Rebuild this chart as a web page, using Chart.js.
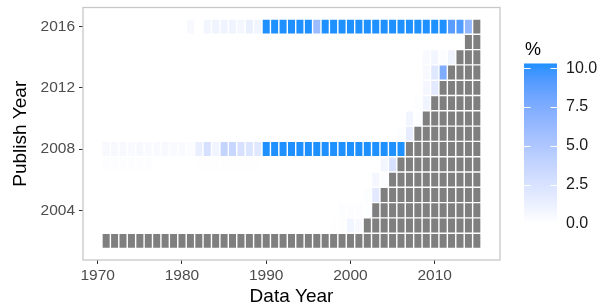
<!DOCTYPE html>
<html>
<head>
<meta charset="utf-8">
<script src="https://cdn.jsdelivr.net/npm/chart.js@4.4.1/dist/chart.umd.min.js"></script>
<style>
  body { margin: 0; background: #fff; }
</style>
</head>
<body>
<canvas id="myChart" width="603" height="308"></canvas>
<script>
// data years (columns) and publish years (rows)
const dataYears = [1971,1972,1973,1974,1975,1976,1977,1978,1979,1980,
  1981,1982,1983,1984,1985,1986,1987,1988,1989,1990,
  1991,1992,1993,1994,1995,1996,1997,1998,1999,2000,
  2001,2002,2003,2004,2005,2006,2007,2008,2009,2010,
  2011,2012,2013,2014,2015];
const publishYears = [2002,2003,2004,2005,2006,2007,2008,2009,2010,2011,2012,2013,2014,2015,2016];

// % per data year, one row per publish year (null = NA)
const row2016 = [0,0,0,0,0,0,0,0,0,0, 0.5,0,0.8,1.0,1.0,1.0,0.7,1.3,0.9, 10.3,10.3,10.3,10.3,10.3,10.3,6.0,10.3,10.3,10.3, 10.3,10.3,10.3,10.3,10.3,10.3,10.3,10.3,10.3,10.3, 10.3,10.3,9.0,9.2,6.5,null];
const row2015 = [0,0,0,0,0,0,0,0,0,0, 0,0,0,0,0,0,0,0,0,0, 0,0,0,0,0,0,0,0,0,0, 0,0,0,0,0,0,0,0,0,0, 0,0,0,null,null];
const row2014 = [0,0,0,0,0,0,0,0,0,0, 0,0,0,0,0,0,0,0,0,0, 0,0,0,0,0,0,0,0,0,0, 0,0,0,0,0,0,0,0, 0.4,0.8,0.2,1.0,null,null,null];
const row2013 = [0,0,0,0,0,0,0,0,0,0, 0,0,0,0,0,0,0,0,0,0, 0,0,0,0,0,0,0,0,0,0, 0,0,0,0,0,0,0,0, 0.5,2.0,7.5,null,null,null,null];
const row2012 = [0,0,0,0,0,0,0,0,0,0, 0,0,0,0,0,0,0,0,0,0, 0,0,0,0,0,0,0,0,0,0, 0,0,0,0,0,0,0,0, 0.7,1.8,null,null,null,null,null];
const row2011 = [0,0,0,0,0,0,0,0,0,0, 0,0,0,0,0,0,0,0,0,0, 0,0,0,0,0,0,0,0,0,0, 0,0,0,0,0,0,0, 0.2,1.0,null,null,null,null,null,null];
const row2010 = [0,0,0,0,0,0,0,0,0,0, 0,0,0,0,0,0,0,0,0,0, 0,0,0,0,0,0,0,0,0,0, 0,0,0,0,0,0, 0.9,0.2,null,null,null,null,null,null,null];
const row2009 = [0,0,0,0,0,0,0,0,0,0, 0,0,0,0,0,0,0,0,0,0, 0,0,0,0,0,0,0,0,0,0, 0,0,0,0,0, 0.2,1.6,null,null,null,null,null,null,null,null];
const row2008 = [0.5,0.5,0.5,0.4,0.5,0.4,0.4,0.5,0.4,0.4, 0.3,1.4,2.6,0.9,3.8,3.5,2.6,2.3,2.0, 10.3,10.3,10.3,10.3,10.3,10.3,10.3,10.3,10.3,10.3,10.3,10.3,10.3,10.3,10.3,10.3,10.3, null,null,null,null,null,null,null,null,null];
const row2007 = [0.15,0.15,0.15,0.15,0.15,0.15, 0,0,0,0,0, 0.05,0.05,0.05,0.05,0.05,0.05,0.05,0.05, 0,0,0,0,0,0,0,0,0,0,0,0,0,0, 0.8,2.6, null,null,null,null,null,null,null,null,null,null];
const row2006 = [0,0,0,0,0,0,0,0,0,0, 0,0,0,0,0,0,0,0,0,0, 0,0,0,0,0,0,0,0,0,0, 0,0, 0.7,0.2,null,null,null,null,null,null,null,null,null,null,null];
const row2005 = [0,0,0,0,0,0,0,0,0,0, 0,0,0,0,0,0,0,0,0,0, 0,0,0,0,0,0,0,0,0,0, 0, 0.2,1.9,null,null,null,null,null,null,null,null,null,null,null,null];
const row2004 = [0,0,0,0,0,0,0,0,0,0, 0,0,0,0,0,0,0,0,0,0, 0,0,0,0,0,0,0,0, 0.2,0.15,0.15,0.1,null,null,null,null,null,null,null,null,null,null,null,null,null];
const row2003 = [0,0,0,0,0,0,0,0,0,0, 0,0,0,0,0,0,0,0,0,0, 0,0,0,0,0,0,0, 0.05,0.05,0.9,0.5,null,null,null,null,null,null,null,null,null,null,null,null,null,null];
const row2002 = [null,null,null,null,null,null,null,null,null,null, null,null,null,null,null,null,null,null,null,null, null,null,null,null,null,null,null,null,null,null, null,null,null,null,null,null,null,null,null,null, null,null,null,null,null];
const rows = [row2002,row2003,row2004,row2005,row2006,row2007,row2008,row2009,row2010,row2011,row2012,row2013,row2014,row2015,row2016];

const xTicks = [1970,1980,1990,2000,2010];
const yTicks = [2004,2008,2012,2016];
const legendTicks = [0,2.5,5,7.5,10];
const legendMax = 10.3;

// white -> dodgerblue, interpolated in Lab like ggplot
function toLab(hex) {
  const c = [1,3,5].map(i => parseInt(hex.substr(i,2),16)/255)
    .map(v => v <= 0.04045 ? v/12.92 : Math.pow((v+0.055)/1.055, 2.4));
  const x = (0.4124*c[0] + 0.3576*c[1] + 0.1805*c[2]) / 0.95047;
  const y = (0.2126*c[0] + 0.7152*c[1] + 0.0722*c[2]);
  const z = (0.0193*c[0] + 0.1192*c[1] + 0.9505*c[2]) / 1.08883;
  const f = t => t > 0.008856 ? Math.cbrt(t) : 7.787*t + 16/116;
  return [116*f(y) - 16, 500*(f(x)-f(y)), 200*(f(y)-f(z))];
}
function fromLab(L, a, b) {
  const fy = (L+16)/116, fx = fy + a/500, fz = fy - b/200;
  const g = t => t > 0.206893 ? t*t*t : (t - 16/116)/7.787;
  const x = g(fx)*0.95047, y = g(fy), z = g(fz)*1.08883;
  const r = 3.2406*x - 1.5372*y - 0.4986*z;
  const gg = -0.9689*x + 1.8758*y + 0.0415*z;
  const bb = 0.0557*x - 0.2040*y + 1.0570*z;
  const s = v => Math.round(255*Math.min(1, Math.max(0, v <= 0.0031308 ? 12.92*v : 1.055*Math.pow(v, 1/2.4) - 0.055)));
  return 'rgb(' + s(r) + ',' + s(gg) + ',' + s(bb) + ')';
}
const lowLab = toLab('#FFFFFF');
const highLab = toLab('#1E90FF');
function fillFor(v) {
  if (v === null) return '#7F7F7F';
  const t = Math.min(1, Math.max(0, v / legendMax));
  return fromLab(lowLab[0] + t*(highLab[0]-lowLab[0]), lowLab[1] + t*(highLab[1]-lowLab[1]), lowLab[2] + t*(highLab[2]-lowLab[2]));
}

const cells = [];
for (var r = 0; r < publishYears.length; r++) {
  for (var i = 0; i < dataYears.length; i++) {
    cells.push({x: dataYears[i], y: [publishYears[r]-0.5, publishYears[r]+0.5], v: rows[r][i]});
  }
}

const FONT = "'Liberation Sans', Arial, sans-serif";

const frameAndLegend = {
  id: 'frameAndLegend',
  afterDatasetsDraw(chart) {
    const a = chart.chartArea, c = chart.ctx;
    c.save();
    c.strokeStyle = '#C8C8C8';
    c.lineWidth = 1.3;
    c.strokeRect(a.left, a.top, a.right - a.left, a.bottom - a.top);
    c.restore();
  },
  afterDraw(chart) {
    const c = chart.ctx;
    const bx = 524, bw = 33, top = 63.5, bottom = 223.3;
    const yOf = v => bottom - (v / legendMax) * (bottom - top);
    c.save();
    const grad = c.createLinearGradient(0, bottom, 0, top);
    for (var k = 0; k <= 20; k++) grad.addColorStop(k/20, fillFor(legendMax*k/20));
    c.fillStyle = grad;
    c.fillRect(bx, top, bw, bottom - top);
    c.strokeStyle = '#FFFFFF';
    c.lineWidth = 1;
    legendTicks.forEach(v => {
      const y = Math.round(yOf(v)) + 0.5;
      c.beginPath();
      c.moveTo(bx, y); c.lineTo(bx + 6.5, y);
      c.moveTo(bx + bw - 6.5, y); c.lineTo(bx + bw, y);
      c.stroke();
    });
    c.fillStyle = '#1A1A1A';
    c.font = '16px ' + FONT;
    c.textBaseline = 'middle';
    c.textAlign = 'left';
    legendTicks.forEach(v => c.fillText(v.toFixed(1), 566, yOf(v)));
    c.font = '18px ' + FONT;
    c.fillStyle = '#000';
    c.fillText('%', 525, 50);
    c.restore();
  }
};

const ctx = document.getElementById('myChart').getContext('2d');
const myChart = new Chart(ctx, {
  type: 'bar',
  data: {
    datasets: [{
      data: cells,
      backgroundColor: c => fillFor(c.raw.v),
      borderColor: '#FFFFFF',
      borderWidth: 0.7,
      borderSkipped: false,
      inflateAmount: 0,
      barPercentage: 1,
      categoryPercentage: 1,
      grouped: false
    }]
  },
  options: {
    responsive: false,
    animation: false,
    devicePixelRatio: 1,
    layout: { padding: { left: 0, top: 7.5, right: 103, bottom: 0 } },
    plugins: { legend: { display: false }, tooltip: { enabled: false } },
    scales: {
      x: {
        type: 'linear',
        min: 1968.25,
        max: 2017.75,
        offset: false,
        afterBuildTicks: s => { s.ticks = xTicks.map(v => ({value: v})); },
        afterFit: s => { s.height = 48; s.paddingLeft = 0; s.paddingRight = 0; },
        grid: { offset: false, drawOnChartArea: false, drawTicks: true, tickLength: 4, color: '#333333', lineWidth: 1 },
        border: { display: false },
        ticks: { color: '#4D4D4D', font: { family: FONT, size: 15.5 }, padding: 2, maxRotation: 0, callback: v => String(v) },
        title: { display: true, text: 'Data Year', color: '#000', font: { family: FONT, size: 19 }, padding: { top: 0, bottom: 0 } }
      },
      y: {
        type: 'linear',
        min: 2000.75,
        max: 2017.25,
        afterBuildTicks: s => { s.ticks = yTicks.map(v => ({value: v})); },
        afterFit: s => { s.width = 83; s.paddingTop = 0; s.paddingBottom = 0; },
        grid: { drawOnChartArea: false, drawTicks: true, tickLength: 4, color: '#333333', lineWidth: 1 },
        border: { display: false },
        ticks: { color: '#4D4D4D', font: { family: FONT, size: 15.5 }, padding: 4, callback: v => String(v) },
        title: { display: true, text: 'Publish Year', color: '#000', font: { family: FONT, size: 19 }, padding: { top: 9, bottom: 0 } }
      }
    }
  },
  plugins: [frameAndLegend]
});
</script>
</body>
</html>
